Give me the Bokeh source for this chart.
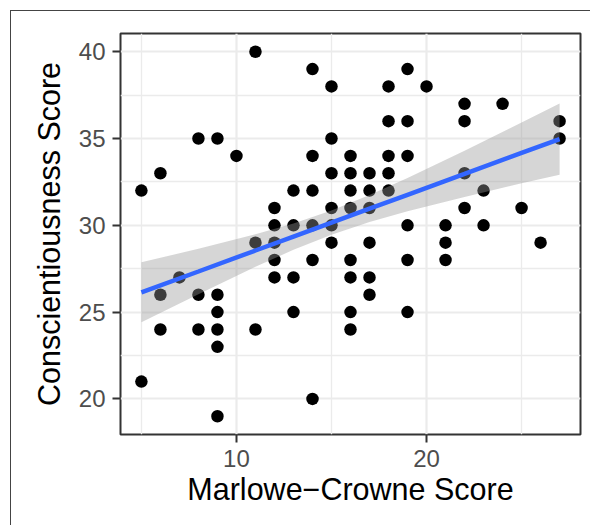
import numpy as np
from bokeh.plotting import figure
from bokeh.models import Range1d, FixedTicker, ColumnDataSource
from bokeh.embed import file_html
from bokeh.resources import INLINE

# Marlowe-Crowne score (x) and Conscientiousness score (y)
mc_score = [5, 5,
            6, 6, 6,
            7,
            8, 8, 8,
            9, 9, 9, 9, 9, 9,
            10,
            11, 11, 11,
            12, 12, 12, 12, 12,
            13, 13, 13, 13,
            14, 14, 14, 14, 14, 14,
            15, 15, 15, 15, 15, 15,
            16, 16, 16, 16, 16, 16, 16, 16,
            17, 17, 17, 17, 17, 17,
            18, 18, 18, 18, 18,
            19, 19, 19, 19, 19, 19,
            20,
            21, 21, 21,
            22, 22, 22, 22,
            23, 23,
            24,
            25,
            26,
            27, 27]
consc_score = [32, 21,
               33, 26, 24,
               27,
               35, 26, 24,
               35, 26, 25, 24, 23, 19,
               34,
               40, 29, 24,
               31, 30, 29, 28, 27,
               32, 30, 27, 25,
               39, 34, 32, 30, 28, 20,
               38, 35, 33, 31, 30, 29,
               34, 33, 32, 31, 28, 27, 25, 24,
               33, 32, 31, 29, 27, 26,
               38, 36, 34, 33, 32,
               39, 36, 34, 30, 28, 25,
               38,
               30, 29, 28,
               37, 36, 33, 31,
               32, 30,
               37,
               31,
               29,
               36, 35]

# fitted line and its 95% band
smooth_x = [5, 8, 11, 13, 15, 17, 19, 22, 25, 27]
smooth_fit = [26.14, 27.34, 28.55, 29.35, 30.15, 30.96, 31.76, 32.96, 34.17, 34.97]
smooth_lo = [24.41, 26.03, 27.61, 28.59, 29.45, 30.19, 30.81, 31.63, 32.42, 32.92]
smooth_hi = [27.87, 28.65, 29.49, 30.11, 30.85, 31.74, 32.72, 34.29, 35.92, 37.02]

x_ticks = [10, 20]
x_minor = [5, 15, 25]
y_ticks = [20, 25, 30, 35, 40]
y_minor = [22.5, 27.5, 32.5, 37.5]

x_label = "Marlowe\u2212Crowne Score"
y_label = "Conscientiousness Score"

pts = ColumnDataSource(dict(x=mc_score, y=consc_score))
band = ColumnDataSource(dict(x=smooth_x, fit=smooth_fit, lo=smooth_lo, hi=smooth_hi))

xa = np.array(mc_score, dtype=float)
ya = np.array(consc_score, dtype=float)
xpad = (xa.max() - xa.min()) * 0.05
ypad = (ya.max() - ya.min()) * 0.05

p = figure(width=580, height=515, output_backend="svg", toolbar_location=None,
           x_range=Range1d(xa.min() - xpad, xa.max() + xpad),
           y_range=Range1d(ya.min() - ypad, ya.max() + ypad),
           min_border_left=109, min_border_right=11, min_border_top=22, min_border_bottom=92,
           margin=(10, 0, 0, 10),
           styles={"border-left": "1px solid #444444", "border-top": "1px solid #444444"})

p.background_fill_color = "white"
p.border_fill_color = "white"
p.outline_line_color = "#333333"
p.outline_line_width = 2

p.xaxis.ticker = FixedTicker(ticks=x_ticks, minor_ticks=x_minor)
p.yaxis.ticker = FixedTicker(ticks=y_ticks, minor_ticks=y_minor)
for ax in (p.xaxis, p.yaxis):
    ax.axis_line_color = None
    ax.major_tick_line_color = "#333333"
    ax.major_tick_line_width = 2
    ax.major_tick_out = 8
    ax.major_tick_in = 0
    ax.minor_tick_line_color = None
    ax.major_label_text_font = "Liberation Sans"
    ax.major_label_text_font_size = "24px"
    ax.major_label_text_color = "#4D4D4D"
    ax.major_label_standoff = 7
    ax.axis_label_text_font = "Liberation Sans"
    ax.axis_label_text_font_size = "30.5px"
    ax.axis_label_text_font_style = "normal"
    ax.axis_label_text_color = "black"
p.xaxis.axis_label = x_label
p.yaxis.axis_label = y_label
p.xaxis.axis_label_standoff = 2
p.yaxis.axis_label_standoff = 10

for g in (p.xgrid, p.ygrid):
    g.grid_line_color = "#EBEBEB"
    g.grid_line_width = 2.2
    g.minor_grid_line_color = "#EBEBEB"
    g.minor_grid_line_width = 1.3

p.scatter("x", "y", source=pts, size=12.5, fill_color="black", line_color=None)
p.varea(x="x", y1="lo", y2="hi", source=band, fill_color="#999999", fill_alpha=0.4)
p.line("x", "fit", source=band, line_color="#3366FF", line_width=4.5)

open("out.html", "w").write(file_html(p, INLINE))
